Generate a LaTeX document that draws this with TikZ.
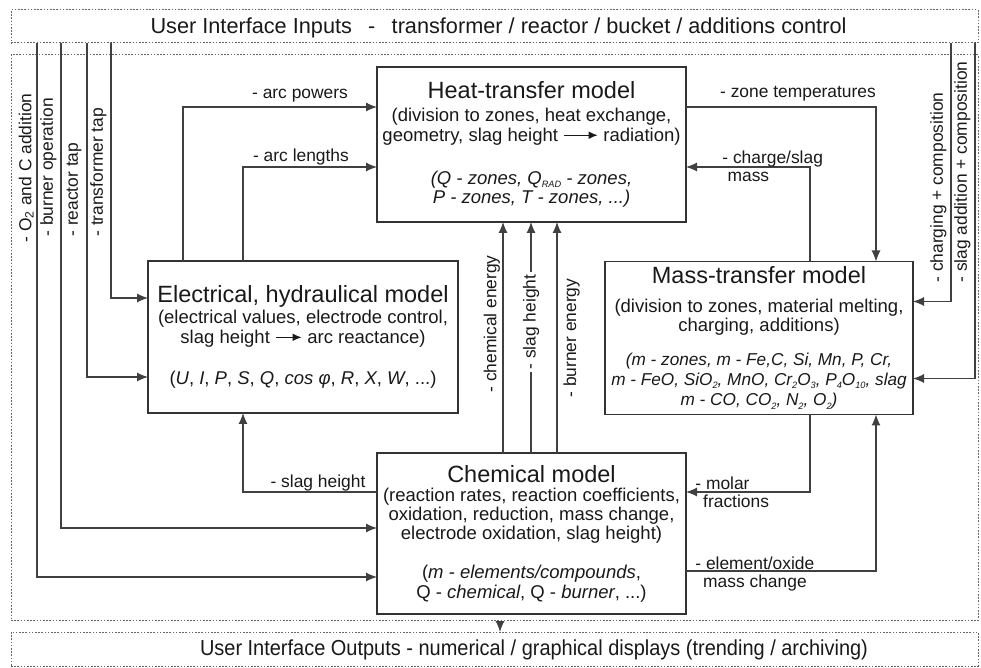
\documentclass[tikz,border=0pt]{standalone}
\usepackage{fontspec}
\setmainfont{Liberation Sans}
\usepackage{graphicx}
\usetikzlibrary{arrows.meta,calc}
\newcommand{\ttlfont}{\fontsize{11.75}{12}\selectfont}
\newcommand{\mfont}{\fontsize{8.6}{9.8}\selectfont\itshape}
\newcommand{\rsub}[1]{\raisebox{-0.35ex}{\fontsize{4.6}{5}\selectfont #1}}
\newcommand{\harrow}[1]{\tikz[baseline=-0.6ex]\draw[line width=0.55pt,-{Latex[length=4.5pt,width=3.8pt]}] (0pt,0pt)--(#1,0pt);}
\begin{document}
\begin{tikzpicture}[x=0.5pt,y=-0.5pt,
  box/.style={draw=black!80, line width=0.6pt, align=center, inner sep=0pt, outer sep=0pt,
    font=\fontsize{9.25}{9.6}\selectfont, text=black!90},
  banner/.style={draw=black!60, line width=0.5pt, dash pattern=on 0.8pt off 0.8pt, inner sep=0pt, outer sep=0pt},
  conn/.style={draw=black!75, line width=0.55pt},
  arr/.style={conn, -{Latex[length=5.5pt,width=4.5pt]}},
  lbl/.style={font=\fontsize{8.7}{9.4}\selectfont, text=black!90, inner sep=1pt}]
\useasboundingbox (0,0) rectangle (981,668);

% banners and main area
\node[banner, minimum width=967*0.5pt, minimum height=33*0.5pt] (inbox) at (494.5,26.5) {};
\node[banner, minimum width=967*0.5pt, minimum height=565.5*0.5pt] (mainarea) at (494.5,337.75) {};
\node[banner, minimum width=967*0.5pt, minimum height=34*0.5pt] (outbox) at (494.5,649) {};
\node[font=\fontsize{10.85}{12}\selectfont, text=black!90] (intext) at (498.5,28)
  {User Interface Inputs\hspace{0.75em}-\hspace{0.75em}transformer / reactor / bucket / additions control};
\node[font=\fontsize{10.85}{12}\selectfont, text=black!90] (outtext) at (534,650)
  {\scalebox{0.92}[1]{User Interface Outputs - numerical / graphical displays (trending / archiving)}};

% model boxes
\node[box, minimum width=309*0.5pt, minimum height=155*0.5pt] (heat) at (531.5,144.5)
  {{\ttlfont Heat-transfer model}\\[2pt]
   (division to zones, heat exchange,\\
   geometry, slag height \harrow{17pt} radiation)\\[12pt]
   \textit{(Q - zones, Q\rsub{RAD} - zones,}\\
   \textit{P - zones, T - zones, ...)}};
\node[box, minimum width=310*0.5pt, minimum height=152*0.5pt] (elec) at (303,337)
  {{\ttlfont Electrical, hydraulical model}\\[1pt]
   (electrical values, electrode control,\\
   slag height \harrow{13pt} arc reactance)\\[11pt]
   (\textit{U}, \textit{I}, \textit{P}, \textit{S}, \textit{Q}, \textit{cos φ}, \textit{R}, \textit{X}, \textit{W}, ...)};
\node[box, minimum width=308*0.5pt, minimum height=153*0.5pt] (mass) at (759,338)
  {{\ttlfont Mass-transfer model}\\[5pt]
   (division to zones, material melting,\\
   charging, additions)\\[7pt]
   {\mfont (m - zones, m - Fe,C, Si, Mn, P, Cr,}\\[0.6pt]
   {\mfont m - FeO, SiO\rsub{2}, MnO, Cr\rsub{2}O\rsub{3}, P\rsub{4}O\rsub{10}, slag}\\[0.6pt]
   {\mfont m - CO, CO\rsub{2}, N\rsub{2}, O\rsub{2})}};
\node[box, minimum width=309*0.5pt, minimum height=161*0.5pt] (chem) at (531.5,533.5)
  {{\ttlfont Chemical model}\\[0pt]
   (reaction rates, reaction coefficients,\\
   oxidation, reduction, mass change,\\
   electrode oxidation, slag height)\\[10pt]
   (\textit{m - elements/compounds},\\
   Q - \textit{chemical}, Q - \textit{burner}, ...)};

% connectors between models
\draw[arr] ($(elec.north west)+(35,0)$) |- ($(heat.north west)+(0,40)$);
\draw[arr] ($(elec.north west)+(95,0)$) |- ($(heat.north west)+(0,100)$);
\draw[arr] ($(heat.north east)+(0,40)$) -| ($(mass.north west)+(271,0)$);
\draw[arr] ($(mass.north west)+(205,0)$) |- ($(heat.north east)+(0,100)$);
\foreach \dx in {126,154,180}
  \draw[arr] ($(chem.north west)+(\dx,0)$) -- ($(heat.south west)+(\dx,0)$);
\draw[arr] ($(chem.north west)+(0,39)$) -| ($(elec.south west)+(95,0)$);
\draw[arr] ($(mass.south west)+(205,0)$) |- ($(chem.north east)+(0,39)$);
\draw[arr] ($(chem.north east)+(0,118)$) -| ($(mass.south west)+(271,0)$);

% user inputs
\draw[arr] ($(inbox.south west)+(100,0)$) |- ($(elec.north west)+(0,37)$);
\draw[arr] ($(inbox.south west)+(76,0)$) |- ($(elec.north west)+(0,116)$);
\draw[arr] ($(inbox.south west)+(50,0)$) |- ($(chem.north west)+(0,75)$);
\draw[arr] ($(inbox.south west)+(26,0)$) |- ($(chem.north west)+(0,124)$);
\draw[arr] ($(inbox.south east)+(-27,0)$) |- ($(mass.north east)+(0,40)$);
\draw[arr] ($(inbox.south east)+(-3,0)$) |- ($(mass.north east)+(0,117)$);

% output
\draw[arr] ($(mainarea.south west)+(489,0)$) -- ($(outbox.north west)+(489,0)$);

% labels
\node[lbl] (lpow) at (300,96) {- arc powers};
\node[lbl] (llen) at (301,157) {- arc lengths};
\node[lbl] (lzone) at (798,94) {- zone temperatures};
\node[lbl, align=left, anchor=north west] (lcharge) at (720,148) {- charge/slag\\\hspace*{0.3em}mass};
\node[lbl] (lslagl) at (318,483) {- slag height};
\node[lbl, align=left, anchor=north west] (lmolar) at (693,474) {- molar\\\hspace*{0.45em}fractions};
\node[lbl, align=left, anchor=north west] (lelem) at (693,554) {- element/oxide\\\hspace*{0.45em}mass change};

\node[lbl, rotate=90, anchor=south west] (lo2) at (36,245) {- O\textsubscript{2} and C addition};
\node[lbl, rotate=90, anchor=south west] (lburn) at (59,239) {- burner operation};
\node[lbl, rotate=90, anchor=south west] (lreac) at (84,239) {- reactor tap};
\node[lbl, rotate=90, anchor=south west] (ltrans) at (109,239) {- transformer tap};
\node[lbl, rotate=90, anchor=south west] (lchg) at (949,285) {- charging + composition};
\node[lbl, rotate=90, anchor=south west] (lsadd) at (973,285) {- slag addition + composition};

\node[lbl, rotate=90, anchor=south west] (lchem) at (502.5,395) {- chemical energy};
\node[lbl, rotate=90, fill=white, inner sep=1.5pt] (lslagm) at (531,322) {- slag height};
\node[lbl, rotate=90, anchor=north west] (lburnE) at (561,400) {- burner energy};
\end{tikzpicture}
\end{document}
